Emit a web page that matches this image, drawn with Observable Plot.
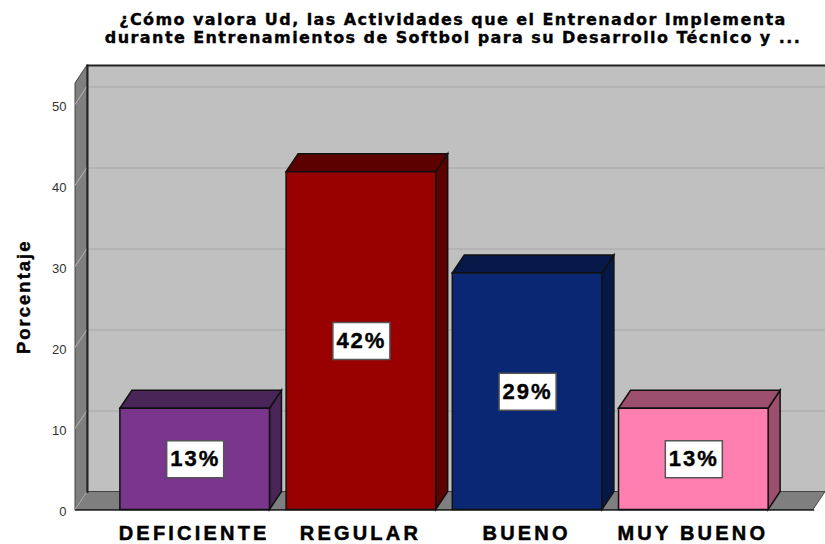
<!DOCTYPE html>
<html><head><meta charset="utf-8">
<script src="https://cdn.jsdelivr.net/npm/d3@7"></script>
<script src="https://cdn.jsdelivr.net/npm/@observablehq/plot@0.6"></script>
<style>
html,body{margin:0;padding:0;background:#fff;overflow:hidden}
#title{position:absolute;left:0;top:11px;width:906px;height:39px;text-align:center;font:bold 16px/18px "DejaVu Sans",sans-serif;color:#000;white-space:pre;letter-spacing:1.42px;-webkit-text-stroke:.35px #000}
#chart{position:absolute;left:0;top:50px}
g[aria-label="x-axis tick label"] text{letter-spacing:3.2px;stroke:#000;stroke-width:.5px}
g[aria-label="y-axis tick label"] text{fill:#333}
g[aria-label="text"] text{letter-spacing:2px;stroke:#000;stroke-width:.4px}
</style></head><body>
<div id="title">¿Cómo valora Ud, las Actividades que el Entrenador Implementa
durante Entrenamientos de Softbol para su Desarrollo Técnico y ...</div>
<div id="chart"></div>
<script>
const categories = ["DEFICIENTE", "REGULAR", "BUENO", "MUY BUENO"];
const values = [12.5, 41.7, 29.2, 12.5];
const labels = ["13%", "42%", "29%", "13%"];
const frontColors = ["#7A358D", "#990000", "#0A2773", "#FF80B0"];
const sideColors = ["#4A2558", "#5C0000", "#061848", "#9C4F6D"];
const yTicks = [0, 10, 20, 30, 40, 50];

const depthX = 12, depthY = 18;
const rows = categories.map((c, i) => ({c, v: values[i], label: labels[i], front: frontColors[i], side: sideColors[i]}));
const svgNS = "http://www.w3.org/2000/svg";

function polygon(points, attrs) {
  const p = document.createElementNS(svgNS, "path");
  p.setAttribute("d", "M" + points.map(q => q.join(",")).join("L") + "Z");
  for (const k in attrs) p.setAttribute(k, attrs[k]);
  return p;
}
// Turns the bar's own rect into the skewed top or side face of the 3D bar.
function face(kind) {
  return (index, scales, vals, dims, ctx, next) => {
    const g = next(index, scales, vals, dims, ctx);
    g.querySelectorAll("rect").forEach(r => {
      const x = +r.getAttribute("x"), y = +r.getAttribute("y");
      const w = +r.getAttribute("width"), h = +r.getAttribute("height");
      const pts = kind === "top"
        ? [[x, y], [x + depthX, y - depthY], [x + w + depthX, y - depthY], [x + w, y]]
        : [[x + w, y], [x + w + depthX, y - depthY], [x + w + depthX, y + h - depthY], [x + w, y + h]];
      r.replaceWith(polygon(pts, {fill: r.getAttribute("fill")}));
    });
    return g;
  };
}
// Left wall, floor and the wall's diagonal grid, placed from the y scale and the frame.
function room(index, {y}, vals, d) {
  const g = document.createElementNS(svgNS, "g");
  const L = d.marginLeft, R = d.width - d.marginRight, T = d.marginTop, B = d.height - d.marginBottom;
  g.append(polygon([[L, T], [L + depthX, T - depthY], [L + depthX, B - depthY], [L, B]], {fill: "#7f7f7f", stroke: "#444", "stroke-width": 1}));
  g.append(polygon([[L, B], [L + depthX, B - depthY], [R + depthX, B - depthY], [R, B]], {fill: "#7f7f7f", stroke: "#444", "stroke-width": 1}));
  for (const t of yTicks) {
    g.append(polygon([[L, y(t)], [L + depthX, y(t) - depthY]], {stroke: "#a9a9a9", "stroke-width": 1, fill: "none"}));
  }
  return g;
}

const chart = Plot.plot({
  width: 825, height: 494,
  marginLeft: 75, marginRight: 12, marginTop: 33, marginBottom: 34.5,
  x: {domain: categories, paddingInner: 0.1, paddingOuter: 0.27, round: false, label: null},
  y: {domain: [0, 52.65], label: null},
  style: {background: "transparent", overflow: "visible"},
  marks: [
    Plot.frame({fill: "#c0c0c0", stroke: "none", dx: depthX, dy: -depthY}),
    Plot.ruleY(yTicks.slice(1), {stroke: "#b3b3b3", strokeWidth: 2, dx: depthX, dy: -depthY}),
    room,
    Plot.frame({anchor: "top", stroke: "#222", strokeWidth: 2, dx: depthX, dy: -depthY}),
    Plot.frame({anchor: "left", stroke: "#222", strokeWidth: 2, dx: depthX, dy: -depthY}),
    Plot.frame({anchor: "bottom", stroke: "#222", strokeWidth: 1.5}),
    Plot.axisY({ticks: yTicks, tickSize: 0, tickPadding: 9, label: null, fontSize: 13, fontFamily: "Liberation Sans", dy: 1.5}),
    Plot.axisX({tickSize: 0, tickPadding: 16, label: null, fontSize: 20, fontWeight: "bold", fontFamily: "Liberation Sans", fill: "#000", dx: -1}),
    Plot.text(["Porcentaje"], {frameAnchor: "left", textAnchor: "middle", rotate: -90, dx: -51, fontSize: 18.5, fontWeight: "bold", fontFamily: "Liberation Sans", fill: "#000"}),
    Plot.barY(rows, {x: "c", y: "v", fill: "side", stroke: "#111", strokeWidth: 1.5, render: face("side")}),
    Plot.barY(rows, {x: "c", y: "v", fill: "side", stroke: "#111", strokeWidth: 1.5, render: face("top")}),
    Plot.barY(rows, {x: "c", y: "v", fill: "front", stroke: "#111", strokeWidth: 1.5}),
    Plot.dot(rows, {x: "c", y: d => d.v / 2, fill: "#fff", stroke: "#555", strokeWidth: 1.5, r: 10,
      symbol: {draw(c) { c.moveTo(-28.5, -18.5); c.lineTo(28.5, -18.5); c.lineTo(28.5, 18.5); c.lineTo(-28.5, 18.5); c.closePath(); }}}),
    Plot.text(rows, {x: "c", y: d => d.v / 2, text: "label", fontSize: 22, fontWeight: "bold", fontFamily: "Liberation Sans", fill: "#000"})
  ]
});
document.getElementById("chart").append(chart);
</script>
</body></html>
